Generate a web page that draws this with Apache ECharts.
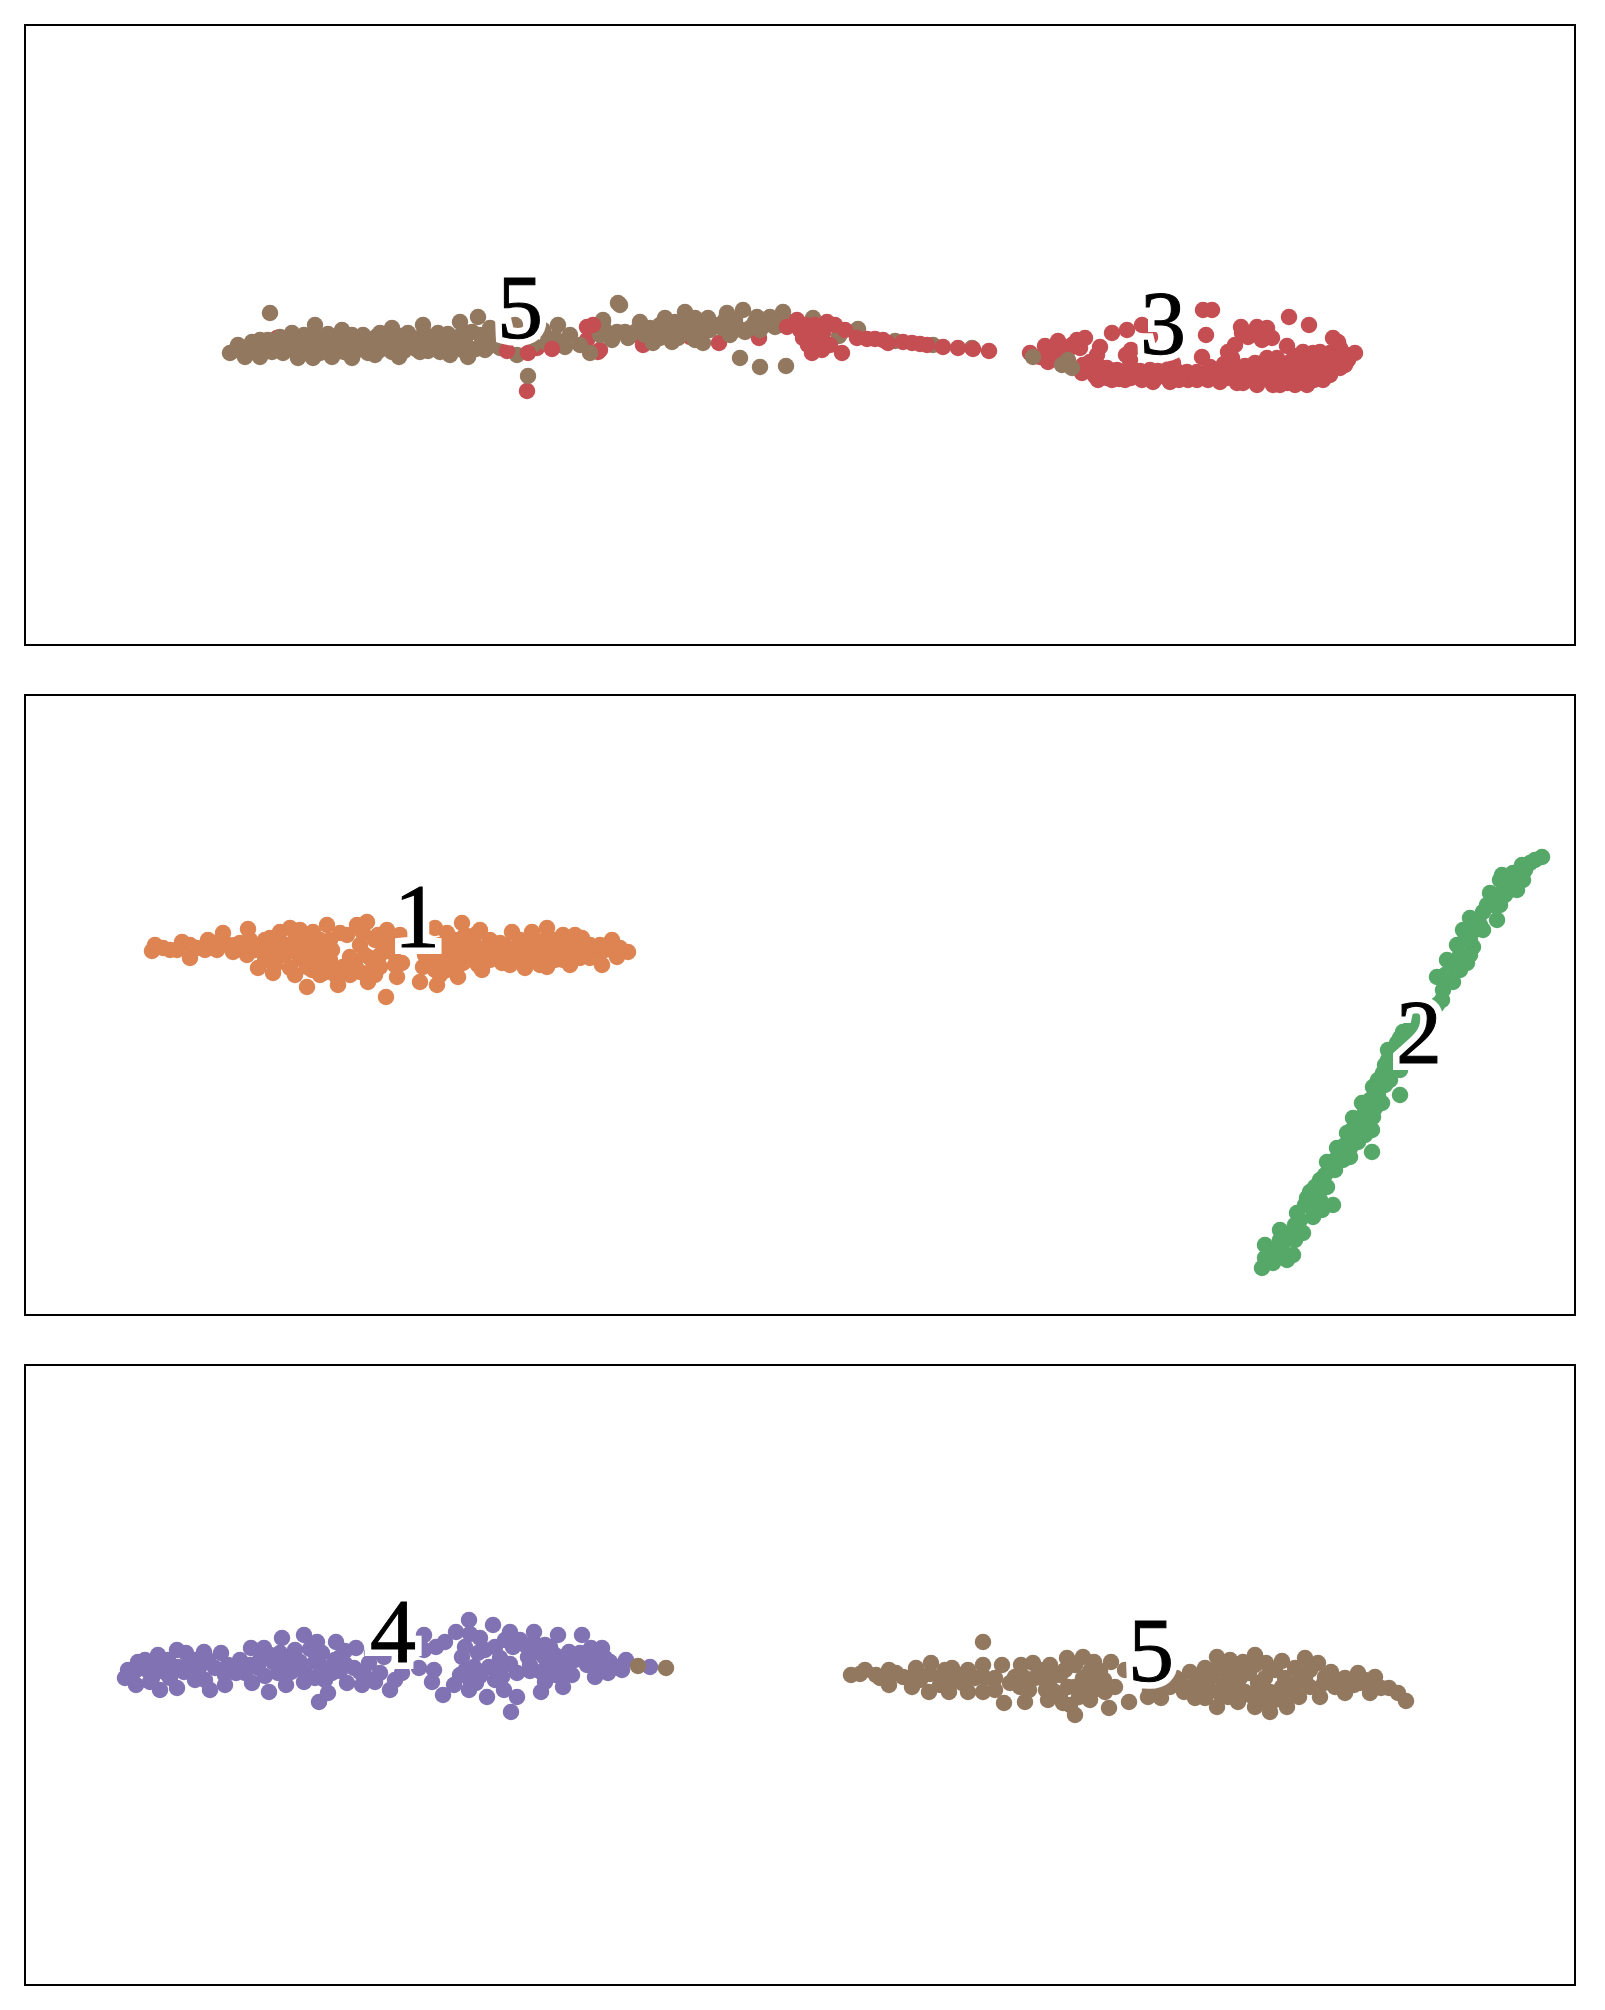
<!DOCTYPE html>
<html><head><meta charset="utf-8">
<style>html,body{margin:0;padding:0;background:#fff}#c{width:1605px;height:2010px}</style>
<script src="https://cdn.jsdelivr.net/npm/echarts@6/dist/echarts.min.js"></script>
</head><body><div id="c"></div>
<script>
const topRedUnder=[[277,338],[325,344],[410,343],[433,337],[467,333],[490,333],[537,348],[587,340],[598,352],[527,391],[600,350],[637,335],[643,345],[667,332],[690,337],[719,343],[759,338],[755,325],
[1203,310],[1212,310],[1289,317],[1309,325],[1206,335],[1112,333],[1127,330],[1142,325],[1150,337],[1287,346],[1241,327],[1257,327],[1267,328],[1272,338],[1248,337],[1260,335],[1235,345],[1232,358],[1202,357],[1210,367],[1030,353],[1045,346],[1048,362],[1058,341],[1060,353],[1077,340],[1085,338],[1080,348],[1100,347],[1097,355],[1131,350],[1130,360],[1083,365],[1082,373],[1093,370],[1105,377],[1107,368],[1117,370],[1125,380],[1133,370],[1142,380],[1153,382],[1150,370],[1170,382],[1167,370],[1173,363],[1188,380],[1187,372],[1208,380],[1220,382],[1227,370],[1237,383],[1257,385],[1243,383],[1250,370],[1255,363],[1267,358],[1277,358],[1273,385],[1263,370],[1287,383],[1280,370],[1290,362],[1303,352],[1313,353],[1307,385],[1297,370],[1310,367],[1300,362],[1323,380],[1327,367],[1330,353],[1333,338],[1338,342],[1340,368],[1348,360],[1355,353],[1343,353],[1335,350],
[1095,376],[1107,378],[1119,379],[1131,378],[1143,376],[1155,379],[1167,378],[1179,380],[1191,376],[1203,378],[1215,376],[1227,378],[1239,376],[1251,378],[1263,378],[1275,377],[1287,376],[1299,378],[1311,376],[1323,372],[1335,365],[1125,371],[1140,371],[1158,371],[1178,372],[1197,372],[1215,371],[1240,372],[1265,365],[1278,365],[1303,358],[1318,358],[1325,360],[1340,358],[1320,352],[1045,355],[1072,345],
[1113,373],[1137,376],[1149,374],[1161,375],[1173,375],[1185,374],[1197,380],[1209,373],[1221,374],[1233,375],[1245,374],[1257,372],[1269,372],[1281,378],[1293,372],[1305,372],[1317,365],[1330,375],[1345,365],[1310,358],[1295,356],[1285,368],[1275,368],[1258,375],[1270,380],[1295,385],[1280,385],[1314,380],[1238,368],[1245,366],[1120,375],[1112,380],[1098,380],[1100,367],[1090,362],[1054,347],[1052,358],[1040,357],[1070,348],[1126,355],[1224,364],[1228,352],[1242,333],[1252,333],[1262,340],[1340,348]];
const topBrown=[[230,353],[238,345],[245,357],[252,342],[260,340],[260,357],[270,313],[292,333],[283,353],[298,358],[307,337],[315,325],[313,358],[325,338],[332,357],[342,330],[352,358],[363,335],[375,355],[380,333],[392,328],[399,357],[408,333],[423,325],[420,352],[438,333],[450,355],[460,322],[468,357],[478,317],[485,350],[490,328],[517,355],[533,345],[558,325],[565,347],[590,353],[603,320],[618,303],[610,337],[240,348],[255,347],[270,347],[285,345],[300,346],[315,345],[330,345],[345,344],[360,344],[375,343],[390,343],[405,343],[420,342],[435,342],[450,342],[465,342],[480,335],[495,340],[505,342],[515,325],[543,330],[547,343],[608,333],[528,376],
[236,350],[248,352],[260,350],[272,352],[284,350],[296,352],[308,351],[320,353],[332,350],[344,352],[356,351],[368,353],[380,350],[392,352],[404,351],[416,349],[428,351],[440,352],[452,350],[464,351],[476,349],[488,347],[500,348],[268,340],[280,337],[292,339],[304,335],[316,338],[328,334],[340,337],[352,335],[364,338],[376,337],[388,335],[400,336],[412,338],[424,333],[436,337],[448,334],[460,336],[472,332],[484,338],[496,334],[555,338],[570,335],[580,345],
[620,305],[603,322],[612,340],[617,332],[628,338],[640,322],[653,343],[650,328],[665,318],[672,342],[668,330],[685,312],[680,328],[695,318],[695,340],[703,343],[708,318],[710,330],[727,313],[722,328],[738,328],[745,332],[743,310],[757,317],[770,317],[775,327],[783,312],[773,320],[813,318],[740,358],[760,367],[786,366],[858,329],[839,336],[895,341],[933,345],[972,348],
[635,332],[645,335],[660,325],[660,338],[675,322],[678,338],[690,325],[700,330],[715,325],[730,322],[730,335],[750,328],[765,325],[785,320],[600,335],[625,332],[655,332],[670,323],[683,320],[688,333],[700,322],[725,320],[735,320],[735,330],[755,322],[780,325],[760,330],
[1033,357],[1062,365],[1068,360],[1072,368]];
const topRedOver=[[507,351],[528,353],[552,349],[587,327],[593,325],[787,327],[797,320],[803,338],[812,353],[810,332],[818,342],[827,322],[823,333],[842,353],[845,330],[857,338],[867,339],[875,339],[883,340],[888,343],[903,342],[912,343],[920,344],[927,345],[943,347],[958,348],[973,349],[989,351],[806,325],[815,345],[830,345],[822,350],[800,330],[835,325],[815,325],[808,345],[825,345]];
const midOrange=[[152,951],[163,948],[177,950],[182,942],[190,958],[197,948],[208,940],[217,950],[223,933],[233,952],[240,943],[248,929],[247,955],[258,968],[263,950],[270,938],[273,973],[280,932],[277,957],[290,928],[290,968],[300,930],[300,950],[307,987],[313,932],[312,970],[327,925],[320,953],[338,985],[337,977],[340,933],[330,960],[347,935],[330,940],[357,925],[367,922],[360,945],[360,972],[368,982],[370,958],[363,933],[387,930],[387,945],[380,967],[397,977],[400,935],[402,963],[393,953],[386,997],[307,967],[323,973],[343,967],[350,957],
[170,950],[205,950],[228,945],[245,945],[255,950],[270,950],[285,945],[285,955],[295,940],[310,945],[310,955],[320,940],[322,963],[332,950],[300,958],[295,975],[330,972],[375,940],[372,970],[350,975],[355,965],
[155,945],[190,945],[215,943],[235,945],[250,940],[265,940],[275,945],[275,965],[265,960],[290,950],[300,940],[310,935],[325,945],[305,962],[320,975],[340,972],[365,955],[380,955],[378,935],[392,940],[395,965],[385,945],[375,975],
[420,982],[437,985],[423,967],[435,928],[447,933],[462,923],[450,953],[458,977],[467,945],[480,930],[482,970],[473,960],[488,950],[502,963],[500,943],[512,932],[517,950],[525,968],[532,932],[547,928],[547,967],[542,953],[563,935],[563,960],[582,938],[580,958],[602,965],[612,940],[597,950],[617,957],[628,952],[570,948],[553,950],[447,970],[430,950],[463,963],[517,958],[527,958],[440,945],[455,940],[475,945],
[430,960],[440,958],[440,975],[455,950],[455,965],[470,950],[480,955],[490,940],[495,955],[510,955],[505,945],[525,945],[535,945],[535,960],[555,940],[555,960],[570,958],[575,945],[590,945],[590,958],[605,950],[620,948],
[425,955],[435,970],[450,942],[445,965],[465,955],[465,935],[475,935],[478,965],[490,960],[500,950],[510,965],[520,940],[530,955],[545,940],[540,965],[560,950],[585,950],[600,945],[612,950],[575,935],[570,965],[548,948]];
const midGreen=[[1542,857],[1530,863],[1522,865],[1502,875],[1523,880],[1513,873],[1507,887],[1490,893],[1497,903],[1517,890],[1470,918],[1483,912],[1497,920],[1463,930],[1483,930],[1457,945],[1473,947],[1467,963],[1447,960],[1453,982],[1437,977],[1443,990],[1442,1000],[1415,1022],[1403,1032],[1388,1050],[1407,1037],[1397,1043],[1383,1073],[1400,1070],[1373,1087],[1400,1095],[1390,1080],[1362,1103],[1382,1103],[1353,1118],[1372,1130],[1373,1117],[1347,1133],[1358,1142],[1372,1152],[1337,1148],[1327,1162],[1350,1157],[1335,1170],[1315,1187],[1327,1187],[1307,1198],[1333,1205],[1320,1200],[1297,1213],[1313,1217],[1280,1230],[1303,1233],[1265,1245],[1283,1243],[1293,1255],[1262,1268],[1273,1263],[1287,1260],[1510,880],[1492,905],[1475,930],[1460,955],[1388,1060],
[1535,860],[1525,870],[1515,880],[1505,895],[1500,880],[1495,895],[1487,905],[1478,920],[1470,930],[1465,940],[1470,955],[1458,960],[1455,970],[1445,975],[1437,1005],[1420,1018],[1410,1028],[1400,1038],[1390,1055],[1395,1060],[1385,1065],[1392,1072],[1378,1080],[1385,1085],[1378,1095],[1370,1100],[1365,1112],[1375,1108],[1360,1125],[1365,1135],[1352,1130],[1345,1145],[1350,1148],[1340,1155],[1335,1160],[1325,1175],[1320,1180],[1310,1192],[1318,1195],[1305,1205],[1322,1210],[1300,1220],[1295,1225],[1290,1235],[1280,1240],[1272,1250],[1282,1255],[1270,1258],
[1510,890],[1500,905],[1480,925],[1470,940],[1460,970],[1375,1090],[1365,1120],[1355,1140],[1343,1160],[1310,1205],[1295,1240],[1278,1250],[1265,1258]];
const lowPurple=[[128,1670],[138,1662],[136,1685],[147,1670],[158,1655],[160,1690],[166,1673],[177,1650],[177,1688],[186,1653],[184,1672],[204,1652],[210,1690],[199,1668],[221,1653],[225,1685],[236,1673],[228,1665],[251,1648],[252,1683],[269,1692],[264,1648],[258,1668],[282,1638],[286,1685],[273,1662],[304,1635],[304,1682],[295,1650],[291,1672],[317,1642],[319,1702],[328,1693],[315,1662],[336,1642],[347,1683],[332,1673],[356,1648],[362,1685],[354,1668],[339,1658],[390,1690],[380,1673],[369,1663],[384,1657],[402,1673],[419,1668],[434,1670],[432,1682],[424,1635],[436,1647],[445,1642],[424,1650],[443,1695],[454,1685],[469,1690],[487,1697],[476,1683],[456,1632],[469,1620],[493,1625],[465,1647],[474,1667],[462,1657],[480,1638],[504,1690],[517,1697],[511,1712],[502,1677],[489,1667],[510,1632],[495,1647],[513,1647],[517,1673],[534,1632],[528,1657],[541,1692],[545,1682],[541,1672],[558,1635],[550,1647],[550,1665],[582,1635],[563,1687],[572,1675],[569,1652],[591,1648],[602,1648],[595,1677],[608,1673],[587,1665],[610,1662],[626,1660],[622,1670],[650,1667],
[135,1671],[145,1660],[150,1682],[158,1667],[168,1660],[170,1678],[178,1667],[190,1662],[195,1680],[208,1660],[205,1680],[240,1660],[245,1673],[260,1660],[265,1676],[278,1673],[280,1653],[290,1660],[300,1662],[305,1673],[310,1649],[322,1653],[325,1680],[340,1671],[345,1651],[345,1664],[365,1676],[372,1653],[375,1682],[470,1634],[478,1653],[480,1676],[465,1671],[470,1680],[500,1658],[505,1640],[520,1640],[510,1664],[530,1671],[535,1644],[545,1658],[540,1653],[555,1655],[565,1664],[580,1653],[595,1660],[605,1658],[560,1676],[617,1667],[595,1667],
[125,1678],[152,1678],[215,1668],[195,1660],[225,1675],[250,1665],[270,1655],[285,1665],[315,1678],[335,1660],[325,1668],[360,1672],[395,1680],[460,1675],[485,1650],[500,1670],[495,1680],[525,1645],[530,1665],[555,1675],[575,1660],[585,1655],[600,1670],[545,1645]];
const lowBrown=[[638,1666],[666,1668],[851,1675],[865,1670],[876,1675],[889,1670],[889,1685],[903,1677],[912,1687],[916,1668],[931,1663],[929,1692],[941,1678],[952,1668],[949,1692],[968,1670],[968,1692],[983,1665],[983,1692],[983,1642],[1004,1703],[995,1690],[1002,1665],[1021,1665],[1025,1702],[1010,1683],[1033,1663],[1029,1690],[1048,1700],[1046,1690],[1067,1658],[1063,1703],[1075,1715],[1060,1675],[1083,1657],[1079,1697],[1083,1678],[1094,1662],[1111,1662],[1109,1708],[1104,1680],[1115,1687],[1125,1670],[1094,1690],[1129,1702],[1161,1698],[1148,1697],[1176,1678],[1190,1672],[1195,1698],[1184,1692],[1205,1668],[1217,1707],[1207,1685],[1217,1657],[1230,1660],[1228,1697],[1238,1702],[1224,1683],[1243,1662],[1255,1655],[1255,1707],[1249,1673],[1270,1712],[1266,1663],[1282,1661],[1261,1690],[1287,1707],[1299,1697],[1305,1658],[1295,1668],[1297,1683],[1282,1687],[1318,1663],[1320,1697],[1331,1672],[1324,1683],[1345,1693],[1358,1673],[1370,1693],[1375,1677],[1354,1685],[1389,1688],[1398,1693],[1406,1701],[1381,1688],
[860,1674],[880,1678],[896,1673],[908,1678],[920,1680],[930,1674],[945,1670],[955,1680],[962,1683],[975,1678],[985,1678],[995,1678],[1015,1677],[1020,1687],[1035,1678],[1040,1670],[1050,1680],[1055,1692],[1050,1665],[1065,1670],[1068,1687],[1075,1665],[1090,1671],[1095,1680],[1100,1671],[1085,1687],[1105,1692],[1075,1687],
[1160,1687],[1170,1687],[1180,1683],[1195,1683],[1200,1692],[1210,1678],[1215,1670],[1205,1698],[1218,1692],[1235,1687],[1235,1674],[1225,1670],[1240,1678],[1245,1692],[1258,1683],[1255,1665],[1265,1678],[1270,1692],[1275,1700],[1275,1670],[1285,1678],[1290,1692],[1285,1698],[1305,1678],[1310,1670],[1325,1677],[1340,1680],[1345,1678],[1360,1683],[1335,1687],[1310,1687],[1370,1683],
[940,1685],[960,1675],[1025,1678],[1045,1680],[1060,1695],[1070,1705],[1090,1700],[1150,1690],[1200,1680],[1225,1690],[1250,1695],[1265,1700],[1280,1695],[1350,1680],[1365,1680]];
const topLabels=[[520,313.5,'5'],[1163,330,'3']];
const midLabels=[[417,923,'1'],[1419,1039,'2']];
const lowLabels=[[393,1637.5,'4'],[1151,1657,'5']];

const BROWN='#937860',RED='#C44E52',ORANGE='#DD8452',GREEN='#55A868',PURPLE='#8172B3';
const panelTops=[25,695,1365];
const chart=echarts.init(document.getElementById('c'),null,{renderer:'canvas'});
const grid=[],xAxis=[],yAxis=[];
panelTops.forEach(t=>{
  grid.push({left:25,top:t,width:1550,height:620,show:true,borderColor:'#000',borderWidth:2,backgroundColor:'#fff'});
  xAxis.push({type:'value',min:25,max:1575,show:false,gridIndex:grid.length-1});
  yAxis.push({type:'value',min:t,max:t+620,inverse:true,show:false,gridIndex:grid.length-1});
});
const pts=(i,data,color,z)=>({type:'scatter',xAxisIndex:i,yAxisIndex:i,data,symbolSize:16.5,z,itemStyle:{color,opacity:1},silent:true});
const lab=(i,data,z,extra)=>({type:'scatter',xAxisIndex:i,yAxisIndex:i,data,symbolSize:1,z,silent:true,itemStyle:{color:'rgba(0,0,0,0)',opacity:1},
  label:Object.assign({show:true,position:'inside',formatter:p=>p.value[2],fontFamily:'Liberation Serif',fontSize:92,opacity:1,align:'center',verticalAlign:'middle'},extra)});
const labs=(i,data)=>[lab(i,data,20,{color:'#fff',textBorderColor:'#fff',textBorderWidth:14}),lab(i,data,21,{color:'#000',textBorderColor:'#000',textBorderWidth:1})];
chart.setOption({animation:false,backgroundColor:'#fff',grid,xAxis,yAxis,series:[
  pts(0,topRedUnder,RED,2),pts(0,topBrown,BROWN,3),pts(0,topRedOver,RED,4),...labs(0,topLabels),
  pts(1,midOrange,ORANGE,2),pts(1,midGreen,GREEN,2),...labs(1,midLabels),
  pts(2,lowPurple,PURPLE,2),pts(2,lowBrown,BROWN,3),...labs(2,lowLabels)
]});
</script></body></html>
